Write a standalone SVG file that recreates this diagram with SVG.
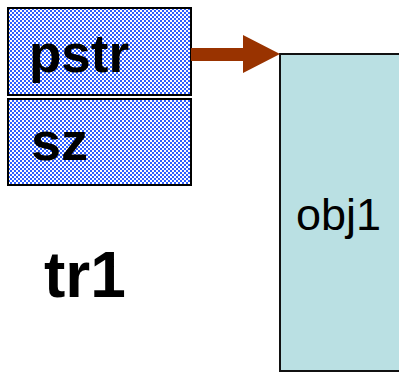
<svg xmlns="http://www.w3.org/2000/svg" width="399" height="372" viewBox="0 0 399 372">
  <style>
    .field { stroke: #000; stroke-width: 2; fill: url(#checker); }
    .obj { stroke: #111; stroke-width: 2; fill: #bae0e3; }
    .bold { font-family: "Liberation Sans", Arial, sans-serif; font-weight: bold; fill: #000; }
    .plain { font-family: "Liberation Sans", Arial, sans-serif; fill: #000; }
  </style>
  <defs>
    <pattern id="checker" width="4" height="4" patternUnits="userSpaceOnUse">
      <rect width="4" height="4" fill="#ffffff"/>
      <rect width="2" height="2" fill="#2f5fff"/>
      <rect x="2" y="2" width="2" height="2" fill="#2f5fff"/>
    </pattern>
  </defs>

  <g id="obj1">
    <rect class="obj" x="280" y="54" width="130" height="317"/>
    <text class="plain" x="296" y="230" font-size="45">obj1</text>
  </g>

  <g id="pstr">
    <rect class="field" x="8" y="8" width="183" height="87"/>
    <text class="bold" x="29" y="72" font-size="53">pstr</text>
  </g>

  <g id="sz">
    <rect class="field" x="8" y="99" width="183" height="86"/>
    <text class="bold" x="31" y="160" font-size="54">sz</text>
  </g>

  <g id="tr1">
    <text class="bold" x="44" y="297" font-size="64">tr1</text>
  </g>

  <g id="connectors">
    <polygon fill="#993300" points="191,48 243,48 243,35 280,54 243,73 243,61 191,61"/>
  </g>
</svg>
